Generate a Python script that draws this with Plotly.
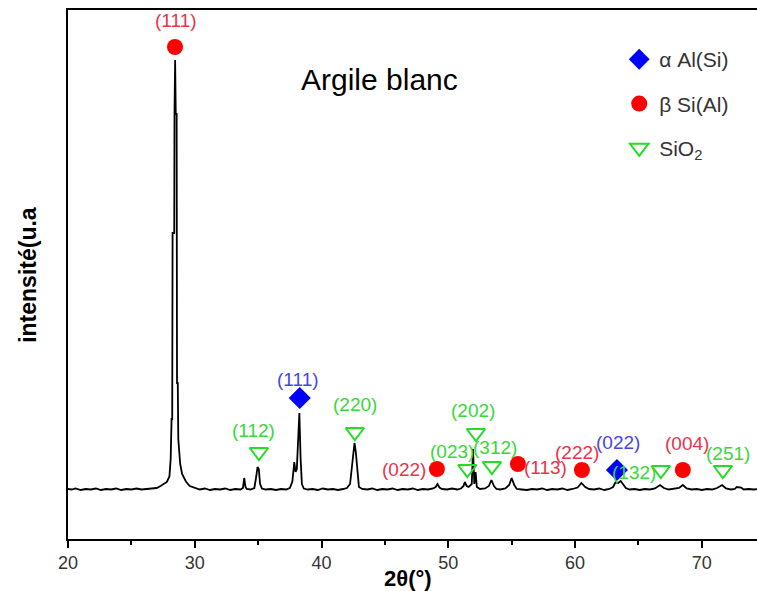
import plotly.graph_objects as go

# ---- XRD pattern (2theta in degrees, intensity in arbitrary units) ----
two_theta = [
    20.0, 20.3, 20.6, 21.0, 21.4, 21.8, 22.2, 22.6, 23.0, 23.4, 23.8, 24.2, 24.6, 25.0,
    25.4, 25.8, 26.2, 26.6, 27.0, 27.3, 27.6, 27.8, 28.0, 28.1, 28.17, 28.22, 28.25, 28.38,
    28.4, 28.45, 28.5, 28.57, 28.6, 28.66, 28.7, 28.85, 29.0, 29.3, 29.6, 30.0,
    30.4, 30.8, 31.2, 31.6, 32.0, 32.4, 32.8, 33.2, 33.6, 33.8, 33.9, 34.0, 34.1, 34.4,
    34.7, 34.85, 34.95, 35.05, 35.15, 35.3, 35.6, 36.0, 36.4, 36.8, 37.2, 37.5, 37.7,
    37.85, 37.95, 38.05, 38.25, 38.35, 38.45, 38.6, 38.9, 39.3, 39.7, 40.1, 40.5, 40.9,
    41.3, 41.7, 42.0, 42.25, 42.45, 42.6, 42.7, 42.85, 42.95, 43.2, 43.6, 44.0, 44.4,
    44.8, 45.2, 45.6, 46.0, 46.4, 46.8, 47.2, 47.6, 48.0, 48.4, 48.8, 49.0, 49.15, 49.3,
    49.5, 49.9, 50.3, 50.7, 51.0, 51.2, 51.3, 51.45, 51.6, 51.85, 51.95, 52.05, 52.15,
    52.25, 52.5, 52.9, 53.2, 53.4, 53.6, 53.8, 54.1, 54.5, 54.8, 55.0, 55.2, 55.4, 55.8,
    56.2, 56.6, 57.0, 57.4, 57.8, 58.2, 58.6, 59.0, 59.4, 59.8, 60.2, 60.5, 60.8, 61.1,
    61.5, 61.9, 62.3, 62.7, 63.0, 63.2, 63.4, 63.6, 63.8, 64.0, 64.3, 64.7, 65.1, 65.5,
    65.9, 66.3, 66.7, 67.0, 67.4, 67.8, 68.2, 68.5, 68.8, 69.2, 69.6, 70.0, 70.4, 70.8,
    71.2, 71.6, 71.9, 72.3, 72.6, 72.75, 73.1, 73.3, 73.7, 74.1, 74.5,
]
intensity = [
    100, 99, 101, 98, 100, 99, 101, 98, 100, 99, 101, 98, 100, 99,
    101, 99, 100, 101, 102, 106, 110, 114, 125, 160, 240, 240, 612, 612,
    850, 958, 850, 850, 312, 312, 200, 150, 130, 115, 106, 102,
    99, 101, 98, 100, 99, 101, 98, 100, 99, 102, 122, 104, 100, 99,
    102, 125, 144, 140, 110, 101, 99, 100, 98, 100, 99, 102, 115,
    154, 134, 140, 252, 160, 110, 101, 99, 100, 98, 101, 99, 100,
    98, 100, 102, 110, 160, 192, 175, 120, 104, 100, 99, 101, 98,
    100, 99, 101, 98, 100, 99, 101, 98, 100, 99, 101, 104, 110, 103,
    100, 99, 101, 99, 101, 106, 114, 106, 104, 110, 180, 110, 134,
    104, 100, 101, 106, 118, 106, 100, 99, 101, 108, 122, 108, 100, 99,
    98, 100, 99, 101, 98, 100, 99, 101, 98, 100, 103, 112, 104, 100,
    99, 101, 98, 100, 104, 114, 112, 116, 108, 102, 99, 100, 98, 100,
    99, 101, 108, 102, 99, 100, 102, 108, 101, 99, 100, 98, 100, 99,
    102, 108, 101, 99, 100, 104, 103, 99, 100, 99, 100,
]

# ---- Phase markers (peak position, marker height, Miller indices) ----
alpha_x = [38.28, 63.30]
alpha_y = [282, 138]
alpha_hkl = ["(111)", "(022)"]

beta_x = [28.44, 49.10, 55.49, 60.54, 68.50]
beta_y = [984, 140, 150, 138, 138]
beta_hkl = ["(111)", "(022)", "(113)", "(222)", "(004)"]

sio2_x = [35.06, 42.63, 51.50, 52.18, 53.44, 66.77, 71.66]
sio2_y = [174, 214, 140, 212, 146, 138, 138]
sio2_hkl = ["(112)", "(220)", "(023)", "(202)", "(312)", "(132)", "(251)"]

x_ticks = [20, 30, 40, 50, 60, 70]

# ---- styles ----
RED, RED_TXT = "#ff0000", "#e8344a"
BLUE, BLUE_TXT = "#0000ff", "#4646e6"
GREEN, GREEN_TXT = "#22dd22", "#3ad63a"
FONT = "Arial, 'Liberation Sans', sans-serif"

# label offsets (xshift, yshift, xanchor) in pixels
alpha_off = [(-2, 19, "center"), (1, 28, "center")]
beta_off = [(1, 27, "center"), (-9, 0, "right"), (4, -3, "left"), (-5, 18, "center"), (4, 27, "center")]
sio2_off = [(-5, 22, "center"), (0, 28, "center"), (-15, 18, "center"), (-3, 23, "center"),
            (3, 19, "center"), (-27, -2, "center"), (5, 17, "center")]

fig = go.Figure()
fig.add_trace(go.Scatter(x=two_theta, y=intensity, mode="lines",
                         line=dict(color="black", width=1.8), showlegend=False, hoverinfo="skip"))
fig.add_trace(go.Scatter(x=sio2_x, y=sio2_y, mode="markers", name="SiO<sub>2</sub>",
                         legendrank=3, legendgroup="c",
                         marker=dict(symbol="triangle-down-open", size=16, color=GREEN,
                                     line=dict(width=2, color=GREEN))))
fig.add_trace(go.Scatter(x=beta_x, y=beta_y, mode="markers", name="β Si(Al)",
                         legendrank=2, legendgroup="b",
                         marker=dict(symbol="circle", size=16, color=RED, line=dict(width=0))))
fig.add_trace(go.Scatter(x=alpha_x, y=alpha_y, mode="markers", name="α Al(Si)",
                         legendrank=1, legendgroup="a",
                         marker=dict(symbol="diamond", size=17, color=BLUE, line=dict(width=0))))

annotations = []
for xs, ys, labels, offs, col in [(alpha_x, alpha_y, alpha_hkl, alpha_off, BLUE_TXT),
                                  (beta_x, beta_y, beta_hkl, beta_off, RED_TXT),
                                  (sio2_x, sio2_y, sio2_hkl, sio2_off, GREEN_TXT)]:
    for x, y, t, (dx, dy, xa) in zip(xs, ys, labels, offs):
        annotations.append(dict(x=x, y=y, text=t, showarrow=False, xshift=dx, yshift=dy,
                                xanchor=xa, yanchor="middle",
                                font=dict(family=FONT, size=19, color=col)))

annotations.append(dict(x=0.4528, y=0.868, xref="paper", yref="paper", text="Argile blanc",
                        showarrow=False, xanchor="center", yanchor="middle",
                        font=dict(family=FONT, size=30, color="black")))
annotations.append(dict(x=0.494, y=-0.074, xref="paper", yref="paper", text="<b>2θ(°)</b>",
                        showarrow=False, xanchor="center", yanchor="middle",
                        font=dict(family=FONT, size=22, color="black")))
annotations.append(dict(x=-0.059, y=0.5, xref="paper", yref="paper", text="<b>intensité(u.a</b>",
                        showarrow=False, xanchor="center", yanchor="middle", textangle=-90,
                        font=dict(family=FONT, size=23, color="black")))

fig.update_layout(
    width=757, height=591,
    margin=dict(l=68, r=0, t=10, b=52),
    plot_bgcolor="white", paper_bgcolor="white",
    annotations=annotations,
    legend=dict(x=0.80, y=0.945, xanchor="left", yanchor="top", bgcolor="rgba(0,0,0,0)",
                font=dict(family=FONT, size=21, color="#333333"),
                traceorder="grouped", tracegroupgap=14, itemsizing="trace"),
    xaxis=dict(range=[20, 74.35], tickvals=x_ticks, ticks="outside", ticklen=7, tickwidth=1.5,
               tickcolor="black", showline=True, linecolor="black", linewidth=1.5, mirror=True,
               showgrid=False, zeroline=False,
               tickfont=dict(family=FONT, size=18, color="#333333"),
               minor=dict(dtick=5, tick0=20, ticks="outside", ticklen=4, tickwidth=1.5,
                          tickcolor="black", showgrid=False)),
    yaxis=dict(range=[0, 1058], showticklabels=False, ticks="", showline=True, linecolor="black",
               linewidth=1.5, showgrid=False, zeroline=False),
)

fig.write_html("out.html", config={"displayModeBar": False},
               post_script="document.body.style.margin='0px';")
